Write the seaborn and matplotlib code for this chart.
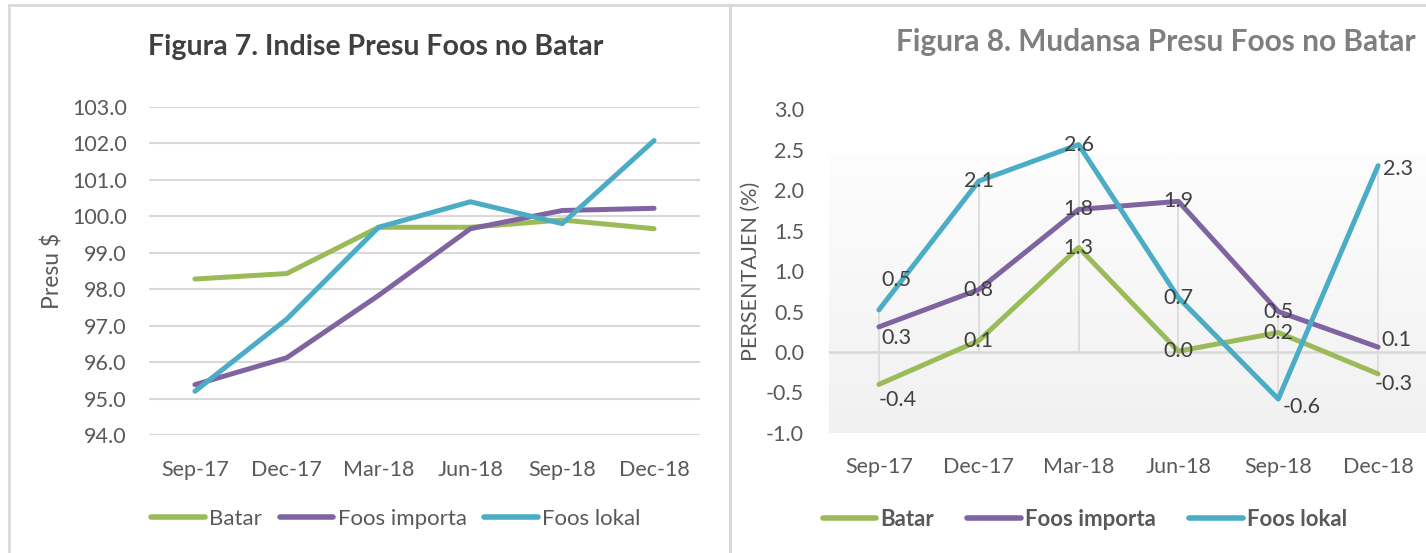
import numpy as np
import pandas as pd
import matplotlib
matplotlib.use("Agg")
import matplotlib.pyplot as plt
import seaborn as sns
from matplotlib.lines import Line2D
from matplotlib.patches import Rectangle
from matplotlib.colors import LinearSegmentedColormap

# ── Data ────────────────────────────────────────────────────
periode = ["Sep-17", "Dec-17", "Mar-18", "Jun-18", "Sep-18", "Dec-18"]
seri = ["Batar", "Foos importa", "Foos lokal"]

# Figura 7 - indise presu ($)
indise_batar   = [98.28, 98.43, 99.70, 99.70, 99.90, 99.66]
indise_importa = [95.38, 96.12, 97.83, 99.66, 100.16, 100.22]
indise_lokal   = [95.20, 97.18, 99.70, 100.40, 99.80, 102.08]

# Figura 8 - mudansa presu (%)
mudansa_batar   = [-0.40, 0.14, 1.29, 0.01, 0.24, -0.27]
mudansa_importa = [0.31, 0.77, 1.76, 1.86, 0.50, 0.06]
mudansa_lokal   = [0.52, 2.11, 2.56, 0.67, -0.58, 2.30]

cores = {"Batar": "#9BBB59", "Foos importa": "#8064A2", "Foos lokal": "#4BACC6"}

def long_df(valores):
    rows = []
    for s, vals in zip(seri, valores):
        for p, v in zip(periode, vals):
            rows.append({"periode": p, "seri": s, "valor": v})
    return pd.DataFrame(rows)

df7 = long_df([indise_batar, indise_importa, indise_lokal])
df8 = long_df([mudansa_batar, mudansa_importa, mudansa_lokal])

sns.set_style("white")
plt.rcParams["font.family"] = ["Lato", "DejaVu Sans"]

W, H = 1426, 553
fig = plt.figure(figsize=(W / 100, H / 100), dpi=100)

def frac_box(x0, x1, ytop, ybot):
    return [x0 / W, 1 - ybot / H, (x1 - x0) / W, (ybot - ytop) / H]

tick_col = "#595959"
grid_col = "#d9d9d9"

# chart borders
for x0, x1 in [(9, 730), (730, 1430)]:
    fig.patches.append(Rectangle((x0 / W, -0.1), (x1 - x0) / W, 1 - 5 / H + 0.1,
                                 transform=fig.transFigure, fill=False,
                                 edgecolor=grid_col, lw=2))

# ── Figura 7 ────────────────────────────────────────────────
ax1 = fig.add_axes(frac_box(149, 700, 107, 435))
sns.lineplot(data=df7, x="periode", y="valor", hue="seri", palette=cores,
             linewidth=3.6, legend=False, sort=False, ax=ax1, zorder=3)
ax1.set_ylim(94, 103)
ax1.set_xlim(-0.5, 5.5)
ax1.set_yticks(np.arange(94, 103.5, 1))
ax1.yaxis.set_major_formatter(matplotlib.ticker.FormatStrFormatter("%.1f"))
ax1.grid(axis="y", color=grid_col, lw=1.5, zorder=0)
ax1.set_axisbelow(True)
for sp in ax1.spines.values():
    sp.set_visible(False)
ax1.tick_params(axis="both", length=0, labelsize=15.5, colors=tick_col)
ax1.tick_params(axis="x", pad=18)
ax1.tick_params(axis="y", pad=16)
ax1.set_xlabel("")
ax1.set_ylabel("Presu $", fontsize=16.5, color=tick_col)
ax1.yaxis.set_label_coords(-0.156, 0.5)
fig.text(376 / W, 1 - 47 / H, "Figura 7. Indise Presu Foos no Batar",
         ha="center", va="center", fontsize=20.5, fontweight="bold", color="#404040")

handles = [Line2D([], [], color=cores[s], lw=4, solid_capstyle="round") for s in seri]
ax1.legend(handles, seri, loc="center", bbox_to_anchor=(396 / W, 1 - 519 / H),
           bbox_transform=fig.transFigure, ncol=3, frameon=False, fontsize=16,
           handlelength=2.4, handletextpad=0.2, columnspacing=0.8,
           labelcolor=tick_col)

# ── Figura 8 ────────────────────────────────────────────────
ax2 = fig.add_axes(frac_box(829, 1428, 109, 433))
grad_cmap = LinearSegmentedColormap.from_list("g", ["#fdfdfd", "#f1f1f1"])
ax2.imshow(np.linspace(0, 1, 100).reshape(-1, 1), extent=[-0.5, 5.5, -1.0, 2.45],
           aspect="auto", cmap=grad_cmap, origin="upper", zorder=0)
ax2.axhline(0, color=grid_col, lw=1.8, zorder=1)
vals8 = np.array([mudansa_batar, mudansa_importa, mudansa_lokal])
ax2.vlines(np.arange(len(periode)), np.minimum(vals8.min(axis=0), 0),
           np.maximum(vals8.max(axis=0), 0), color=grid_col, lw=1.2, zorder=1)
sns.lineplot(data=df8, x="periode", y="valor", hue="seri", palette=cores,
             linewidth=3.6, legend=False, sort=False, ax=ax2, zorder=3)
ax2.set_ylim(-1.0, 3.0)
ax2.set_xlim(-0.5, 5.5)
ax2.set_yticks(np.arange(-1.0, 3.01, 0.5))
ax2.yaxis.set_major_formatter(matplotlib.ticker.FormatStrFormatter("%.1f"))
for sp in ax2.spines.values():
    sp.set_visible(False)
ax2.tick_params(axis="both", length=0, labelsize=15.5, colors=tick_col)
ax2.tick_params(axis="x", pad=17)
ax2.tick_params(axis="y", pad=18)
ax2.set_xlabel("")
ax2.set_ylabel("PERSENTAJEN (%)", fontsize=15.5, color=tick_col)
ax2.yaxis.set_label_coords(-0.114, 0.5)
fig.text(1156 / W, 1 - 42 / H, "Figura 8. Mudansa Presu Foos no Batar",
         ha="center", va="center", fontsize=21.5, fontweight="bold", color="#7f7f7f")

# data label placement: (ha, dx, dy) in pixels, default centred on the point
label_pos = {
    ("Batar", 0): ("left", 0, -16), ("Batar", 5): ("left", -3, -10),
    ("Foos importa", 0): ("left", 2, -11), ("Foos importa", 5): ("left", 3, 7),
    ("Foos lokal", 0): ("left", 2, 30), ("Foos lokal", 4): ("left", 4, -8),
    ("Foos lokal", 5): ("left", 5, -3),
}
for s, vals in zip(seri, vals8):
    for i, v in enumerate(vals):
        ha, dx, dy = label_pos.get((s, i), ("center", 0, 0))
        ax2.annotate(f"{v:.1f}", (i, v), xytext=(dx, dy), textcoords="offset pixels",
                     ha=ha, va="center", fontsize=15.5, color="#404040", zorder=5)

ax2.legend(handles, seri, loc="center", bbox_to_anchor=(1085 / W, 1 - 519 / H),
           bbox_transform=fig.transFigure, ncol=3, frameon=False,
           prop={"size": 16, "weight": "bold"},
           handlelength=2.4, handletextpad=0.2, columnspacing=1.5,
           labelcolor=tick_col)

for ax in (ax1, ax2):
    for l in ax.lines:
        l.set_solid_capstyle("round")
        l.set_solid_joinstyle("round")

fig.savefig("out.png", dpi=100)
